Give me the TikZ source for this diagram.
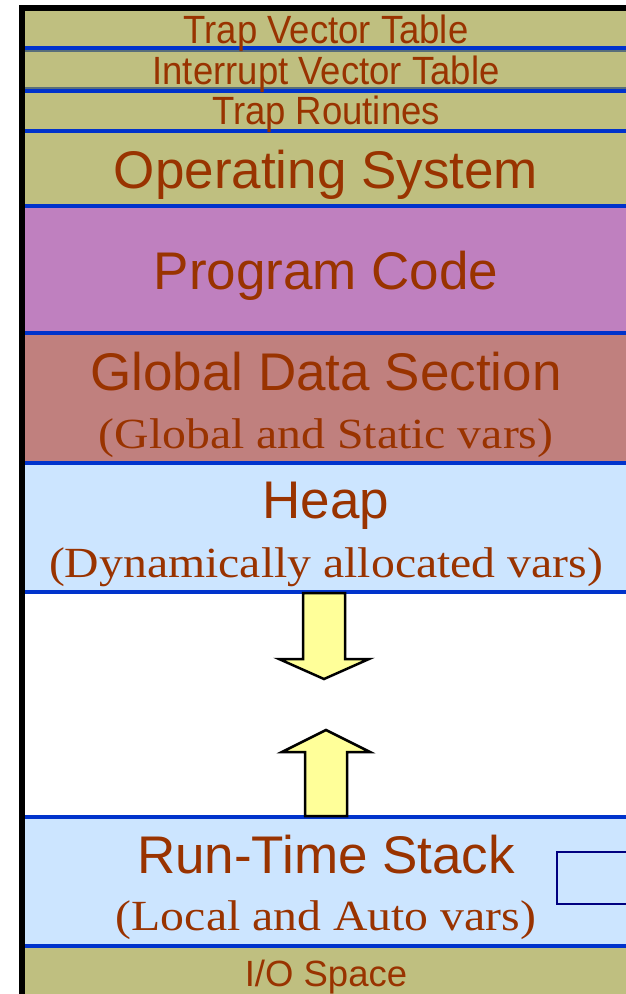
\documentclass[tikz,border=0pt]{standalone}
\usepackage{fontspec}
\setmainfont{Liberation Serif}
\setsansfont{Liberation Sans}
\begin{document}
\begin{tikzpicture}[x=1pt,y=-1pt,
  khaki/.style={fill={rgb,255:red,191;green,191;blue,128}},
  plum/.style={fill={rgb,255:red,191;green,128;blue,191}},
  rosy/.style={fill={rgb,255:red,192;green,128;blue,126}},
  sky/.style={fill={rgb,255:red,204;green,229;blue,255}},
  sepline/.style={draw={rgb,255:red,0;green,51;blue,204},line width=3.2pt},
  greyline/.style={draw={rgb,255:red,88;green,110;blue,122},line width=2.5pt},
  bigtxt/.style={anchor=base,inner sep=0pt,text={rgb,255:red,153;green,51;blue,0},font=\sffamily\fontsize{53}{53}\selectfont},
  smalltxt/.style={anchor=base,inner sep=0pt,text={rgb,255:red,153;green,51;blue,0},font=\sffamily\fontsize{36.5}{36.5}\selectfont},
  subtxt/.style={anchor=base,inner sep=0pt,text={rgb,255:red,153;green,51;blue,0},font=\rmfamily\fontsize{43}{43}\selectfont},
  growarrow/.style={draw=black,line width=2.5pt,line join=miter,fill={rgb,255:red,255;green,255;blue,153}},
  framebox/.style={draw={rgb,255:red,0;green,0;blue,128},line width=2.5pt}]
\useasboundingbox (0,0) rectangle (626,994);
\clip (0,0) rectangle (626,994);

% memory regions, top to bottom
\path[khaki] (22,8) rectangle (626,206);
\path[plum]  (22,206) rectangle (626,333);
\path[rosy]  (22,333) rectangle (626,463);
\path[sky]   (22,463) rectangle (626,592);
\path[fill=white] (22,592) rectangle (626,817);
\path[sky]   (22,817) rectangle (626,946);
\path[khaki] (22,946) rectangle (626,994);

% region boundaries
\draw[sepline]  (25,48) -- (626,48);
\draw[greyline] (25,51) -- (626,51);
\draw[greyline] (25,88) -- (626,88);
\draw[sepline]  (25,91) -- (626,91);
\draw[sepline]  (25,131) -- (626,131);
\draw[sepline]  (25,206) -- (626,206);
\draw[sepline]  (25,333) -- (626,333);
\draw[sepline]  (25,463) -- (626,463);
\draw[sepline]  (25,592) -- (626,592);
\draw[sepline]  (25,817) -- (626,817);
\draw[sepline]  (25,946) -- (626,946);

% outer frame (left and top edges)
\draw[line width=6pt,line cap=rect] (22,994) -- (22,8) -- (626,8);

% region labels
\node[smalltxt] (tvt) at (326,43) {\scalebox{1}[1.08]{Trap Vector Table}};
\node[smalltxt] (ivt) at (326,84) {\scalebox{1}[1.08]{Interrupt Vector Table}};
\node[smalltxt] (tr)  at (326,124) {\scalebox{1}[1.08]{Trap Routines}};
\node[bigtxt] (os)   at (326,188) {Operating System};
\node[bigtxt] (code) at (326,289) {Program Code};
\node[bigtxt] (gds)  at (326,390) {Global Data Section};
\node[subtxt] (gdsn) at (326,448) {\scalebox{1.11}[1]{(Global and Static vars)}};
\node[bigtxt] (heap) at (326,518) {Heap};
\node[subtxt] (heapn) at (326,577) {\scalebox{1.11}[1]{(Dynamically allocated vars)}};
\node[bigtxt] (rts)  at (326,873) {Run-Time Stack};
\node[subtxt] (rtsn) at (326,930) {\scalebox{1.11}[1]{(Local and Auto vars)}};
\node[smalltxt] (io) at (326,986) {I/O Space};

% growth arrows: heap grows down, stack grows up
\draw[growarrow] (303,593) -- (345,593) -- (345,659) -- (369,659) -- (324,679)
  -- (279,659) -- (303,659) -- cycle;
\draw[growarrow] (305,816) -- (347,816) -- (347,752) -- (370,752) -- (326,730)
  -- (282,752) -- (305,752) -- cycle;

% stack-frame box at the right edge
\draw[framebox] (557,852) rectangle (640,904);
\end{tikzpicture}
\end{document}
